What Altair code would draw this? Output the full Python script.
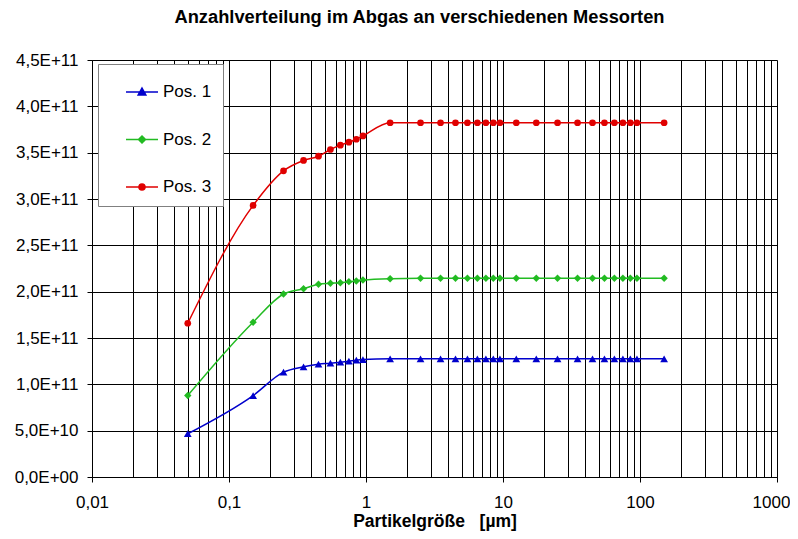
import altair as alt
import pandas as pd

# ---------------- data ----------------
series_names = ["Pos. 1", "Pos. 2", "Pos. 3"]
series_colors = ["#0000CC", "#22BB22", "#E00000"]

sizes_um = [0.05, 0.15, 0.25, 0.35, 0.45, 0.55, 0.65, 0.75, 0.85, 0.95,
            1.5, 2.5, 3.5, 4.5, 5.5, 6.5, 7.5, 8.5, 9.5,
            12.5, 17.5, 25, 35, 45, 55, 65, 75, 85, 95, 150]

pos1 = [4.67e10, 8.79e10, 1.131e11, 1.189e11, 1.218e11, 1.228e11, 1.239e11, 1.250e11, 1.261e11, 1.267e11,
        1.275e11, 1.275e11, 1.275e11, 1.275e11, 1.275e11, 1.275e11, 1.275e11, 1.275e11, 1.275e11,
        1.275e11, 1.275e11, 1.275e11, 1.275e11, 1.275e11, 1.275e11, 1.275e11, 1.275e11, 1.275e11, 1.275e11, 1.275e11]

pos2 = [8.79e10, 1.670e11, 1.975e11, 2.032e11, 2.080e11, 2.090e11, 2.097e11, 2.108e11, 2.115e11, 2.126e11,
        2.140e11, 2.144e11, 2.144e11, 2.144e11, 2.144e11, 2.144e11, 2.144e11, 2.144e11, 2.144e11,
        2.144e11, 2.144e11, 2.144e11, 2.144e11, 2.144e11, 2.144e11, 2.144e11, 2.144e11, 2.144e11, 2.144e11, 2.144e11]

pos3 = [1.659e11, 2.931e11, 3.304e11, 3.416e11, 3.462e11, 3.534e11, 3.581e11, 3.613e11, 3.645e11, 3.681e11,
        3.823e11, 3.823e11, 3.823e11, 3.823e11, 3.823e11, 3.823e11, 3.823e11, 3.823e11, 3.823e11,
        3.823e11, 3.823e11, 3.823e11, 3.823e11, 3.823e11, 3.823e11, 3.823e11, 3.823e11, 3.823e11, 3.823e11, 3.823e11]

x_tick_values = [0.01, 0.02, 0.03, 0.04, 0.05, 0.06, 0.07, 0.08, 0.09,
                 0.1, 0.2, 0.3, 0.4, 0.5, 0.6, 0.7, 0.8, 0.9,
                 1, 2, 3, 4, 5, 6, 7, 8, 9,
                 10, 20, 30, 40, 50, 60, 70, 80, 90,
                 100, 200, 300, 400, 500, 600, 700, 800, 900, 1000]
y_tick_values = [0, 5e10, 1e11, 1.5e11, 2e11, 2.5e11, 3e11, 3.5e11, 4e11, 4.5e11]

rows = []
for name, vals in zip(series_names, [pos1, pos2, pos3]):
    for xv, yv in zip(sizes_um, vals):
        rows.append({"size": xv, "count": yv, "series": name})
df = pd.DataFrame(rows)

FONT = "Liberation Sans"
major = "abs(log(datum.value)/LN10 - round(log(datum.value)/LN10)) < 1e-6"

x_enc = alt.X(
    "size:Q",
    scale=alt.Scale(type="log", domain=[0.01, 1000], nice=False),
    axis=alt.Axis(
        title="Partikelgröße\u00a0\u00a0\u00a0[µm]",
        values=x_tick_values,
        labelExpr=f"({major}) ? replace(datum.value + '', '.', ',') : ''",
        labelFlush=False,
        labelOverlap=False,
        labelOffset={"condition": {"test": "datum.value >= 1000", "value": -6}, "value": 0},
        labelFont=FONT, labelFontSize=17, labelColor="black",
        labelBaseline="alphabetic", labelPadding=25,
        tickSize=5, tickColor="black",
        tickOpacity={"condition": {"test": major, "value": 1}, "value": 0},
        grid=True, gridColor="black", gridOpacity=1, gridWidth=1,
        domainColor="black",
        titleFont=FONT, titleFontSize=17.5, titleFontWeight="bold", titleColor="black",
        titleY=49, titleBaseline="alphabetic",
    ),
)
y_enc = alt.Y(
    "count:Q",
    scale=alt.Scale(domain=[0, 4.5e11], nice=False),
    axis=alt.Axis(
        title=None,
        values=y_tick_values,
        labelExpr="datum.value == 0 ? '0,0E+00' : replace(replace(format(datum.value, '.1e'), '.', ','), 'e+', 'E+')",
        labelFont=FONT, labelFontSize=17, labelColor="black",
        labelPadding=9, tickSize=5, tickColor="black",
        grid=True, gridColor="black", gridOpacity=1, gridWidth=1,
        domainColor="black",
    ),
)

marker_shapes = ["triangle-up", "diamond", "circle"]
marker_sizes = [60, 55, 45]

layers = []
for name, col in zip(series_names, series_colors):
    layers.append(
        alt.Chart(df).transform_filter(alt.datum.series == name)
        .mark_line(interpolate="monotone", strokeWidth=1.5, color=col)
        .encode(x=x_enc, y=y_enc)
    )
for name, col, shp, sz in zip(series_names, series_colors, marker_shapes, marker_sizes):
    layers.append(
        alt.Chart(df).transform_filter(alt.datum.series == name)
        .mark_point(filled=True, shape=shp, size=sz, opacity=1, color=col)
        .encode(x=x_enc, y=y_enc)
    )

# legend-only layer (no marks drawn: filter keeps nothing; legend built from scale domain)
legend_paths = [
    "M-1,0H1M0,-0.25L0.24,0.18L-0.24,0.18Z",
    "M-1,0H1M0,-0.22L0.22,0L0,0.22L-0.22,0Z",
    "M-1,0H1M0.19,0A0.19,0.19,0,1,1,-0.19,0A0.19,0.19,0,1,1,0.19,0Z",
]
legend = alt.Legend(
    title=None, orient="none", legendX=6, legendY=4,
    fillColor="white", strokeColor="#808080",
    padding=11, rowPadding=22.5, symbolOffset=16, labelOffset=4,
    symbolSize=1024, symbolStrokeWidth=1.5, symbolOpacity=1,
    labelFont=FONT, labelFontSize=17, labelColor="black",
    labelExpr="datum.label + '\u00a0\u00a0\u00a0\u00a0\u00a0\u00a0\u00a0\u00a0\u00a0'",
)
legend_layer = alt.Chart(df).transform_filter("datum.size < 0").mark_point(filled=True).encode(
    x=x_enc, y=y_enc,
    fill=alt.Fill("series:N", scale=alt.Scale(domain=series_names, range=series_colors), legend=legend),
    stroke=alt.Stroke("series:N", scale=alt.Scale(domain=series_names, range=series_colors), legend=legend),
    shape=alt.Shape("series:N", scale=alt.Scale(domain=series_names, range=legend_paths), legend=legend),
)
layers.append(legend_layer)

chart = alt.layer(*layers).properties(
    width=685, height=417,
    autosize=alt.AutoSizeParams(type="none"),
    padding={"left": 84, "top": 52, "right": 13, "bottom": 54},
    title=alt.TitleParams(
        "Anzahlverteilung im Abgas an verschiedenen Messorten",
        font=FONT, fontSize=18.3, fontWeight="bold", color="black",
        anchor="middle", frame="group", dx=-15, offset=6, baseline="bottom",
    ),
).configure_view(stroke="black", strokeWidth=1).configure(background="white")

chart.save("out.html", embed_options={"renderer": "svg", "actions": False})
